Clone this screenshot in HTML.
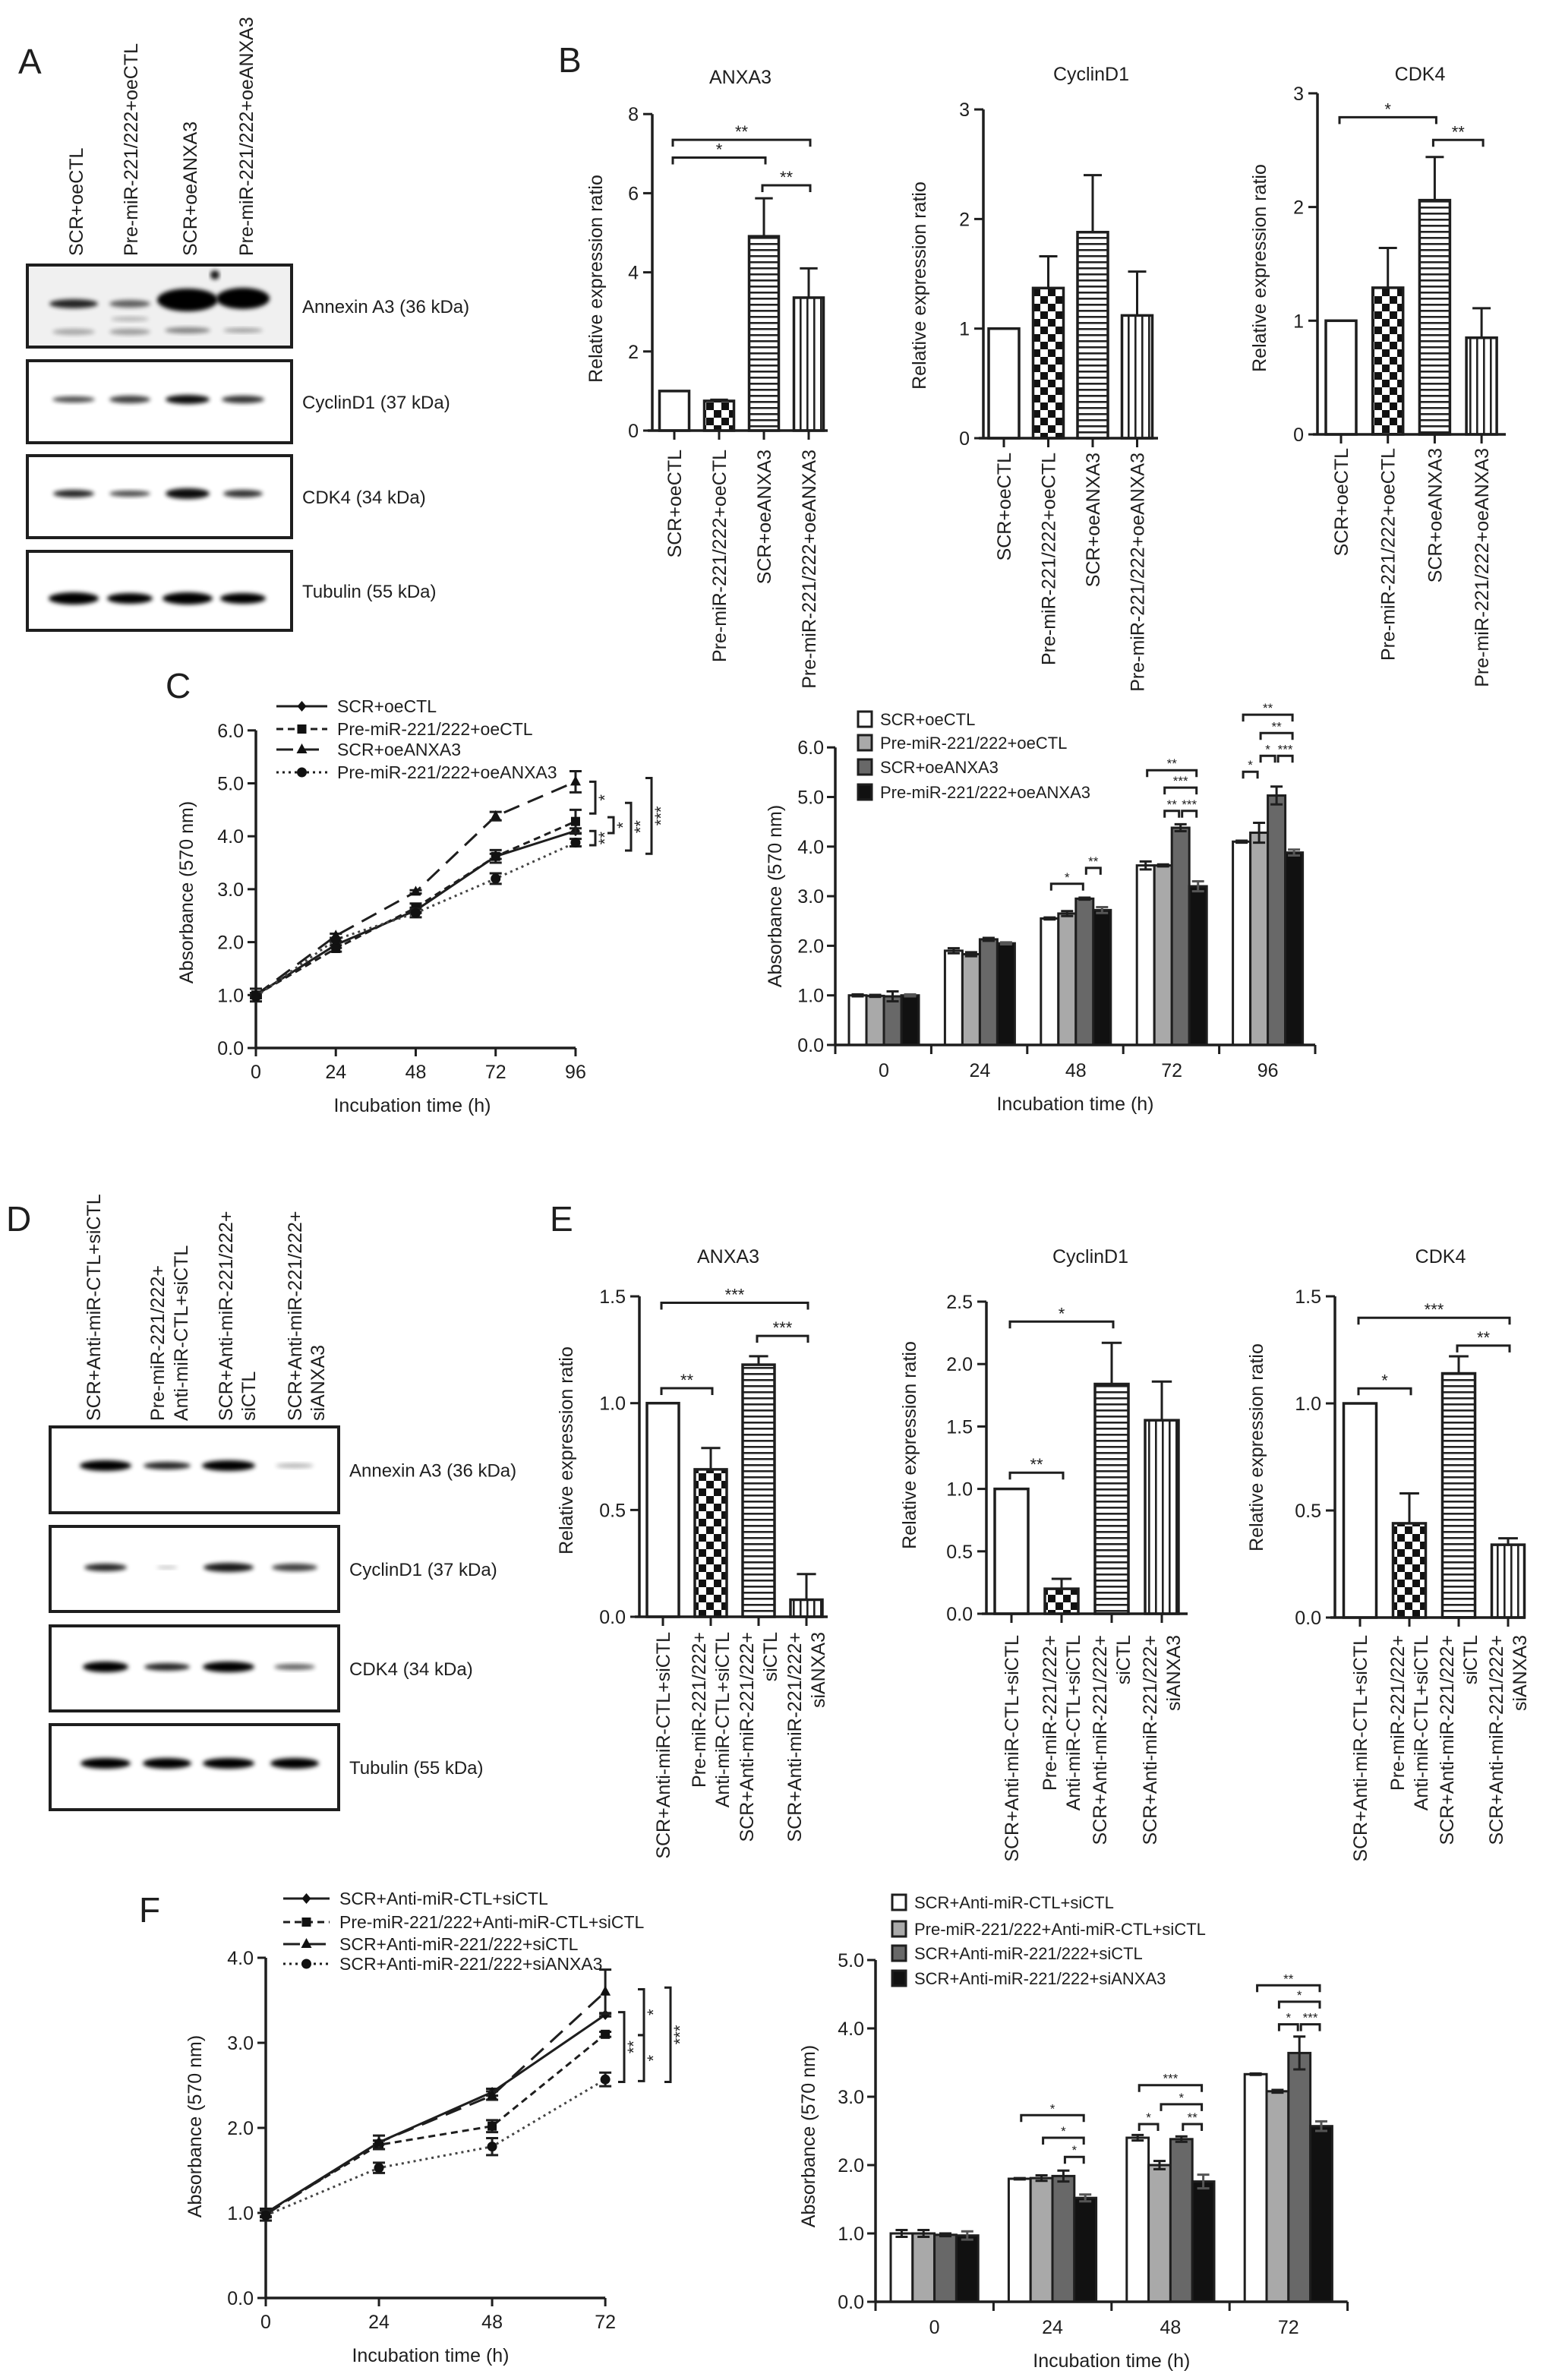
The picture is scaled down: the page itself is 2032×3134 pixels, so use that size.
<!DOCTYPE html>
<html><head><meta charset="utf-8">
<style>
html,body{margin:0;padding:0;background:#fff}
svg{display:block}
text{font-family:"Liberation Sans",Arial,sans-serif;fill:#1e1e1e}
</style></head>
<body>
<svg id="fig" xmlns="http://www.w3.org/2000/svg" width="2032" height="3134" viewBox="0 0 2032 3134">
<defs>
<pattern id="checker" width="20" height="20" patternUnits="userSpaceOnUse"><rect width="20" height="20" fill="#fff"/><rect width="10" height="10" fill="#111"/><rect x="10" y="10" width="10" height="10" fill="#111"/></pattern>
<pattern id="hstripe" width="8" height="8" patternUnits="userSpaceOnUse"><rect width="8" height="8" fill="#fff"/><rect width="8" height="2.6" fill="#222"/></pattern>
<pattern id="vstripe" width="9" height="9" patternUnits="userSpaceOnUse"><rect width="9" height="9" fill="#fff"/><rect width="2.6" height="9" fill="#222"/></pattern>
<filter id="blur" x="-20%" y="-50%" width="140%" height="200%"><feGaussianBlur stdDeviation="3"/></filter>
</defs>
</svg>
<script>
// ---------------- DATA ----------------
const B_categories = ['SCR+oeCTL','Pre-miR-221/222+oeCTL','SCR+oeANXA3','Pre-miR-221/222+oeANXA3'];
const B_anxa3_values = [1.0, 0.75, 4.91, 3.36];
const B_anxa3_errors = [0, 0.03, 0.96, 0.74];
const B_anxa3_ticks = [0, 2, 4, 6, 8];
const B_cyclin_values = [1.0, 1.37, 1.88, 1.12];
const B_cyclin_errors = [0, 0.29, 0.52, 0.40];
const B_cyclin_ticks = [0, 1, 2, 3];
const B_cdk4_values = [1.0, 1.29, 2.06, 0.85];
const B_cdk4_errors = [0, 0.35, 0.38, 0.26];
const B_cdk4_ticks = [0, 1, 2, 3];

const E_categories = [['SCR+Anti-miR-CTL+siCTL'],['Pre-miR-221/222+','Anti-miR-CTL+siCTL'],['SCR+Anti-miR-221/222+','siCTL'],['SCR+Anti-miR-221/222+','siANXA3']];
const E_anxa3_values = [1.0, 0.69, 1.18, 0.08];
const E_anxa3_errors = [0, 0.10, 0.04, 0.12];
const E_cyclin_values = [1.0, 0.2, 1.84, 1.55];
const E_cyclin_errors = [0, 0.08, 0.33, 0.31];
const E_cdk4_values = [1.0, 0.44, 1.14, 0.34];
const E_cdk4_errors = [0, 0.14, 0.08, 0.03];
const E_ticks15 = [0, 0.5, 1.0, 1.5];
const E_ticks25 = [0, 0.5, 1.0, 1.5, 2.0, 2.5];

const C_series_names = ['SCR+oeCTL','Pre-miR-221/222+oeCTL','SCR+oeANXA3','Pre-miR-221/222+oeANXA3'];
const C_times = [0, 24, 48, 72, 96];
const C_scr_oectl = [1.0, 1.95, 2.6, 3.62, 4.1];
const C_pre_oectl = [1.0, 1.88, 2.65, 3.62, 4.28];
const C_scr_oeanxa3 = [1.0, 2.12, 2.95, 4.38, 5.03];
const C_pre_oeanxa3 = [0.97, 2.05, 2.55, 3.2, 3.88];
const C_scr_oectl_err = [0.04, 0.06, 0.05, 0.12, 0.05];
const C_pre_oectl_err = [0.03, 0.06, 0.08, 0.05, 0.22];
const C_scr_oeanxa3_err = [0.12, 0.04, 0.03, 0.08, 0.2];
const C_pre_oeanxa3_err = [0.03, 0.03, 0.08, 0.1, 0.07];
const C_yticks = [0, 1, 2, 3, 4, 5, 6];

const C_bar_scr_oectl = [1.0, 1.9, 2.55, 3.62, 4.1];
const C_bar_pre_oectl = [0.99, 1.83, 2.65, 3.62, 4.28];
const C_bar_scr_oeanxa3 = [0.98, 2.13, 2.95, 4.38, 5.03];
const C_bar_pre_oeanxa3 = [1.0, 2.05, 2.72, 3.2, 3.88];

const F_series_names = ['SCR+Anti-miR-CTL+siCTL','Pre-miR-221/222+Anti-miR-CTL+siCTL','SCR+Anti-miR-221/222+siCTL','SCR+Anti-miR-221/222+siANXA3'];
const F_times = [0, 24, 48, 72];
const F_ctl = [1.0, 1.83, 2.42, 3.33];
const F_pre = [1.0, 1.8, 2.02, 3.1];
const F_anti = [0.98, 1.83, 2.38, 3.6];
const F_si = [0.97, 1.53, 1.78, 2.57];
const F_ctl_err = [0.04, 0.02, 0.04, 0.02];
const F_pre_err = [0.05, 0.05, 0.07, 0.03];
const F_anti_err = [0.02, 0.08, 0.05, 0.26];
const F_si_err = [0.06, 0.06, 0.1, 0.08];
const F_yticks = [0, 1, 2, 3, 4];
const F_bar_ctl = [1.0, 1.8, 2.4, 3.33];
const F_bar_pre = [1.0, 1.81, 2.0, 3.08];
const F_bar_anti = [0.98, 1.84, 2.38, 3.64];
const F_bar_si = [0.97, 1.52, 1.76, 2.57];
const F_bar_yticks = [0, 1, 2, 3, 4, 5];

const NS = 'http://www.w3.org/2000/svg';
const svg = document.getElementById('fig');
function mk(tag, name, parent) {
  const e = document.createElementNS(NS, tag);
  
  
  (parent || svg).appendChild(e);
  return e;
}
function at(e, o) { for (const k in o) e.setAttribute(k, o[k]); return e; }
function line(name, x1, y1, x2, y2, w, extra, p) { return at(mk('line', name, p), Object.assign({x1, y1, x2, y2, stroke: '#1e1e1e', 'stroke-width': w || 3}, extra || {})); }
function txt(name, s, x, y, fs, anchor, extra, p) {
  const t = at(mk('text', name, p), Object.assign({x, y, 'font-size': fs, 'text-anchor': anchor || 'start'}, extra || {}));
  t.textContent = s; return t;
}
function vtxt(name, s, x, y, fs, anchor, p) {
  return txt(name, s, 0, 0, fs, anchor, {transform: 'translate(' + x + ',' + y + ') rotate(-90)'}, p);
}
function fmt1(v) { return v.toFixed(1); }

[['A',24,97],['B',735,95],['C',218,919],['D',8,1621],['E',724,1621],['F',183,2531]].forEach(function (d) {
  txt('panel-label-' + d[0].toLowerCase(), d[0], d[1], d[2], 46, 'start');
});

function blot(prefix, cfg) {
  const g = mk('g', prefix + '-blot');
  cfg.lanes.forEach(function (lane, i) {
    const lg = mk('g', prefix + '-lane-label-' + (i + 1), g);
    lane.forEach(function (ln, j) {
      vtxt(prefix + '-lane-text', ln, cfg.laneX[i][j] + 9, cfg.laneBottom, 25, 'start', lg);
    });
  });
  cfg.boxes.forEach(function (b) {
    const bg = mk('g', prefix + '-membrane-' + b.name, g);
    at(mk('rect', prefix + '-membrane-box', bg), {x: cfg.x0, y: b.y, width: cfg.x1 - cfg.x0, height: b.h, fill: b.bg || '#fff', stroke: '#1e1e1e', 'stroke-width': 4});
    b.bands.forEach(function (band, i) {
      if (band[1] <= 0) return;
      at(mk('ellipse', prefix + '-band', bg), {cx: cfg.bandX[i], cy: b.by + (band[2] || 0), rx: band[0], ry: band[1], fill: '#000', opacity: band[3], filter: 'url(#blur)'});
    });
    (b.extra || []).forEach(function (e) {
      at(mk('ellipse', prefix + '-band-faint', bg), {cx: e[0], cy: e[1], rx: e[2], ry: e[3], fill: '#000', opacity: e[4], filter: 'url(#blur)'});
    });
    txt(prefix + '-protein-label', b.label, cfg.x1 + 14, b.y + b.h / 2 + 9, 24, 'start', null, bg);
  });
}
blot('a', {
  lanes: [['SCR+oeCTL'], ['Pre-miR-221/222+oeCTL'], ['SCR+oeANXA3'], ['Pre-miR-221/222+oeANXA3']],
  laneX: [[100], [172], [250], [324]], laneBottom: 337,
  x0: 36, x1: 384, bandX: [97, 171, 247, 320],
  boxes: [
    {name: 'annexin', label: 'Annexin A3 (36 kDa)', y: 349, h: 108, by: 400, bg: '#f0f0f0',
      bands: [[32, 6, 0, 0.85], [27, 5, 0, 0.6], [40, 15, -5, 1], [35, 14, -7, 1]],
      extra: [[97, 437, 28, 4, 0.3], [171, 437, 27, 4, 0.35], [171, 420, 25, 3, 0.25], [247, 435, 30, 4, 0.45], [320, 435, 26, 3, 0.35], [283, 362, 6, 6, 0.9]]},
    {name: 'cyclind1', label: 'CyclinD1 (37 kDa)', y: 475, h: 108, by: 526, bands: [[28, 4, 0, 0.7], [27, 5, 0, 0.75], [29, 6, 0, 0.95], [28, 5, 0, 0.8]]},
    {name: 'cdk4', label: 'CDK4 (34 kDa)', y: 600, h: 108, by: 650, bands: [[27, 5, 0, 0.85], [27, 4, 0, 0.7], [29, 7, 0, 0.95], [26, 5, 0, 0.8]]},
    {name: 'tubulin', label: 'Tubulin (55 kDa)', y: 726, h: 104, by: 788, bands: [[33, 8, 0, 1], [30, 7, 0, 1], [33, 8, 0, 1], [30, 7, 0, 1]]}
  ]
});
blot('d', {
  lanes: [['SCR+Anti-miR-CTL+siCTL'], ['Pre-miR-221/222+', 'Anti-miR-CTL+siCTL'], ['SCR+Anti-miR-221/222+', 'siCTL'], ['SCR+Anti-miR-221/222+', 'siANXA3']],
  laneX: [[123], [207, 238], [297, 327], [388, 418]], laneBottom: 1871,
  x0: 66, x1: 446, bandX: [139, 220, 301, 388],
  boxes: [
    {name: 'annexin', label: 'Annexin A3 (36 kDa)', y: 1879, h: 113, by: 1930, bands: [[34, 7, 0, 1], [31, 5, 0, 0.85], [35, 7, 0, 1], [25, 3, 0, 0.3]]},
    {name: 'cyclind1', label: 'CyclinD1 (37 kDa)', y: 2010, h: 112, by: 2064, bands: [[28, 5, 0, 0.85], [14, 2, 0, 0.25], [33, 6, 0, 0.9], [30, 5, 0, 0.75]]},
    {name: 'cdk4', label: 'CDK4 (34 kDa)', y: 2141, h: 112, by: 2195, bands: [[30, 7, 0, 1], [30, 5, 0, 0.85], [34, 7, 0, 1], [27, 4, 0, 0.6]]},
    {name: 'tubulin', label: 'Tubulin (55 kDa)', y: 2271, h: 112, by: 2322, bands: [[33, 7, 0, 1], [32, 7, 0, 1], [34, 7, 0, 1], [32, 7, 0, 1]]}
  ]
});

const FILLS = ['#fff', 'url(#checker)', 'url(#hstripe)', 'url(#vstripe)'];
function bracket(name, x1, x2, y, label, fs, p) {
  const g = mk('g', name, p);
  at(mk('path', name + '-line', g), {d: 'M' + x1 + ',' + (y + 9) + 'V' + y + 'H' + x2 + 'V' + (y + 9), fill: 'none', stroke: '#1e1e1e', 'stroke-width': 3});
  txt(name + '-stars', label, (x1 + x2) / 2, y - 3, fs, 'middle', null, g);
}
function exprChart(name, c, vals, errs, ticks, cats, brackets) {
  const g = mk('g', name);
  const yv = function (v) { return c.y0 - v * c.ppu; };
  const xc = function (i) { return c.cx0 + i * c.step; };
  txt(name + '-title', c.title, c.titleX, c.titleY, 25, 'middle', null, g);
  if (c.ytitleX) vtxt(name + '-y-axis-title', 'Relative expression ratio', c.ytitleX + 9, c.ytitleY, 25, 'middle', g);
  line(name + '-y-axis', c.ax, yv(ticks[ticks.length - 1]), c.ax, c.y0, 3.5, null, g);
  ticks.forEach(function (t) {
    line(name + '-y-tick', c.ax - 12, yv(t), c.ax, yv(t), 3, null, g);
    txt(name + '-y-tick-label', c.fmt ? fmt1(t) : String(t), c.ax - 18, yv(t) + 9, 25, 'end', null, g);
  });
  vals.forEach(function (v, i) {
    const bx = xc(i) - c.bw / 2;
    at(mk('rect', name + '-bar-' + (i + 1), g), {x: bx, y: yv(v), width: c.bw, height: v * c.ppu, fill: FILLS[i], stroke: '#1e1e1e', 'stroke-width': 3.5});
    if (errs[i] > 0) {
      line(name + '-error-bar', xc(i), yv(v), xc(i), yv(v + errs[i]), 3, null, g);
      line(name + '-error-cap', xc(i) - c.bw * 0.3, yv(v + errs[i]), xc(i) + c.bw * 0.3, yv(v + errs[i]), 3, null, g);
    }
  });
  line(name + '-x-axis', c.ax - 6, c.y0, c.xEnd, c.y0, 3.5, null, g);
  cats.forEach(function (lines, i) {
    line(name + '-x-tick', xc(i), c.y0, xc(i), c.y0 + 12, 3, null, g);
    const n = lines.length;
    lines.forEach(function (ln, j) {
      const off = n === 1 ? 0 : (j === 0 ? -16 : 15);
      vtxt(name + '-x-tick-label', ln, xc(i) + off + 9, c.labelTop, 25, 'end', g);
    });
  });
  brackets.forEach(function (b, k) {
    bracket(name + '-significance-' + (k + 1), xc(b[0]) - 2, xc(b[1]) + 2, yv(b[2]), b[3], 22, g);
  });
}
const Bcats = B_categories.map(function (s) { return [s]; });
exprChart('b-anxa3-chart', {ax: 859, y0: 567, ppu: 52.1, cx0: 888, step: 59, bw: 39, xEnd: 1090, title: 'ANXA3', titleX: 975, titleY: 110, ytitleX: 784, ytitleY: 367, labelTop: 592},
  B_anxa3_values, B_anxa3_errors, B_anxa3_ticks, Bcats, [[0, 3, 7.35, '**'], [0, 2, 6.9, '*'], [2, 3, 6.2, '**']]);
exprChart('b-cyclind1-chart', {ax: 1295, y0: 577, ppu: 144.3, cx0: 1322, step: 58.5, bw: 40, xEnd: 1525, title: 'CyclinD1', titleX: 1437, titleY: 106, ytitleX: 1210, ytitleY: 376, labelTop: 596},
  B_cyclin_values, B_cyclin_errors, B_cyclin_ticks, Bcats, []);
exprChart('b-cdk4-chart', {ax: 1735, y0: 572, ppu: 149.7, cx0: 1766, step: 61.7, bw: 40, xEnd: 1983, title: 'CDK4', titleX: 1870, titleY: 106, ytitleX: 1658, ytitleY: 353, labelTop: 590},
  B_cdk4_values, B_cdk4_errors, B_cdk4_ticks, Bcats, [[0, 2, 2.79, '*'], [2, 3, 2.59, '**']]);

exprChart('e-anxa3-chart', {ax: 842, y0: 2129, ppu: 281.3, cx0: 873, step: 63, bw: 42, xEnd: 1090, fmt: true, title: 'ANXA3', titleX: 959, titleY: 1663, ytitleX: 745, ytitleY: 1910, labelTop: 2149},
  E_anxa3_values, E_anxa3_errors, E_ticks15, E_categories, [[0, 3, 1.47, '***'], [2, 3, 1.315, '***'], [0, 1, 1.07, '**']]);
exprChart('e-cyclind1-chart', {ax: 1299, y0: 2125, ppu: 164.4, cx0: 1332, step: 66, bw: 44, xEnd: 1564, fmt: true, title: 'CyclinD1', titleX: 1436, titleY: 1663, ytitleX: 1197, ytitleY: 1903, labelTop: 2153},
  E_cyclin_values, E_cyclin_errors, E_ticks25, E_categories, [[0, 2, 2.34, '*'], [0, 1, 1.13, '**']]);
exprChart('e-cdk4-chart', {ax: 1758, y0: 2130, ppu: 282, cx0: 1791, step: 65, bw: 43, xEnd: 2008, fmt: true, title: 'CDK4', titleX: 1897, titleY: 1663, ytitleX: 1654, ytitleY: 1906, labelTop: 2153},
  E_cdk4_values, E_cdk4_errors, E_ticks15, E_categories, [[0, 3, 1.40, '***'], [2, 3, 1.27, '**'], [0, 1, 1.07, '*']]);

const DASHES = ['', '9,6', '22,12', '3,5'];
function marker(name, k, x, y, p) {
  if (k === 0) return at(mk('path', name, p), {d: 'M' + x + ',' + (y - 7) + 'L' + (x + 6) + ',' + y + 'L' + x + ',' + (y + 7) + 'L' + (x - 6) + ',' + y + 'Z', fill: '#111'});
  if (k === 1) return at(mk('rect', name, p), {x: x - 6, y: y - 6, width: 12, height: 12, fill: '#111'});
  if (k === 2) return at(mk('path', name, p), {d: 'M' + x + ',' + (y - 8) + 'L' + (x + 7) + ',' + (y + 5) + 'L' + (x - 7) + ',' + (y + 5) + 'Z', fill: '#111'});
  return at(mk('circle', name, p), {cx: x, cy: y, r: 6.5, fill: '#111'});
}
function lineChart(name, c, times, series, errs, names, yticks, brackets) {
  const g = mk('g', name);
  const xv = function (t) { return c.ax + t * c.ppx; };
  const yv = function (v) { return c.y0 - v * c.ppu; };
  line(name + '-y-axis', c.ax, yv(yticks[yticks.length - 1]), c.ax, c.y0, 3.5, null, g);
  yticks.forEach(function (t) {
    line(name + '-y-tick', c.ax - 11, yv(t), c.ax, yv(t), 3, null, g);
    txt(name + '-y-tick-label', fmt1(t), c.ax - 16, yv(t) + 9, 25, 'end', null, g);
  });
  line(name + '-x-axis', c.ax, c.y0, xv(times[times.length - 1]), c.y0, 3.5, null, g);
  times.forEach(function (t) {
    line(name + '-x-tick', xv(t), c.y0, xv(t), c.y0 + 11, 3, null, g);
    txt(name + '-x-tick-label', String(t), xv(t), c.y0 + 40, 25, 'middle', null, g);
  });
  txt(name + '-x-axis-title', 'Incubation time (h)', c.xtX, c.y0 + 84, 25, 'middle', null, g);
  vtxt(name + '-y-axis-title', 'Absorbance (570 nm)', c.ytX + 9, c.ytY, 25, 'middle', g);
  series.forEach(function (s, k) {
    const sg = mk('g', name + '-series-' + (k + 1), g);
    const d = s.map(function (v, i) { return (i ? 'L' : 'M') + xv(times[i]) + ',' + yv(v); }).join('');
    const pa = at(mk('path', name + '-line', sg), {d: d, fill: 'none', stroke: k === 3 ? '#444' : '#1e1e1e', 'stroke-width': 3});
    if (DASHES[k]) pa.setAttribute('stroke-dasharray', DASHES[k]);
    s.forEach(function (v, i) {
      const e = errs[k][i];
      line(name + '-error-bar', xv(times[i]), yv(v - e), xv(times[i]), yv(v + e), 3, null, sg);
      line(name + '-error-cap', xv(times[i]) - 8, yv(v + e), xv(times[i]) + 8, yv(v + e), 3, null, sg);
      line(name + '-error-cap', xv(times[i]) - 8, yv(v - e), xv(times[i]) + 8, yv(v - e), 3, null, sg);
      marker(name + '-marker', k, xv(times[i]), yv(v), sg);
    });
    const lg = mk('g', name + '-legend-entry-' + (k + 1), g);
    const ly = c.legY[k];
    const ll = line(name + '-legend-line', c.legX0, ly, c.legX1, ly, 3, null, lg);
    if (DASHES[k]) ll.setAttribute('stroke-dasharray', DASHES[k]);
    marker(name + '-legend-marker', k, (c.legX0 + c.legX1) / 2, ly, lg);
    txt(name + '-legend-label', names[k], c.legX1 + 13, ly + 8, 23, 'start', null, lg);
  });
  brackets.forEach(function (b, i) {
    const bg = mk('g', name + '-significance-' + (i + 1), g);
    at(mk('path', name + '-bracket', bg), {d: 'M' + (b[0] - 8) + ',' + yv(b[1]) + 'H' + b[0] + 'V' + yv(b[2]) + 'H' + (b[0] - 8), fill: 'none', stroke: '#1e1e1e', 'stroke-width': 3});
    vtxt(name + '-stars', b[3], b[0] + 20, (yv(b[1]) + yv(b[2])) / 2, 22, 'middle', bg);
  });
}
lineChart('c-line-chart', {ax: 337, y0: 1380, ppx: 4.385, ppu: 69.7, xtX: 543, ytX: 245, ytY: 1175, legX0: 364, legX1: 431, legY: [930, 960, 987, 1017]},
  C_times, [C_scr_oectl, C_pre_oectl, C_scr_oeanxa3, C_pre_oeanxa3], [C_scr_oectl_err, C_pre_oectl_err, C_scr_oeanxa3_err, C_pre_oeanxa3_err], C_series_names, C_yticks,
  [[784, 5.03, 4.43, '*'], [784, 4.1, 3.83, '**'], [808, 4.36, 4.06, '*'], [831, 4.63, 3.73, '**'], [858, 5.1, 3.67, '***']]);
lineChart('f-line-chart', {ax: 350, y0: 3026, ppx: 6.21, ppu: 112, xtX: 567, ytX: 256, ytY: 2800, legX0: 373, legX1: 434, legY: [2500, 2531, 2560, 2586]},
  F_times, [F_ctl, F_pre, F_anti, F_si], [F_ctl_err, F_pre_err, F_anti_err, F_si_err], F_series_names, F_yticks,
  [[822, 3.36, 2.54, '**'], [848, 3.63, 3.09, '*'], [848, 3.09, 2.55, '*'], [883, 3.65, 2.54, '***']]);

const GCOL = ['#ffffff', '#a9a9a9', '#686868', '#111111'];
function groupChart(name, c, times, series, errs, names, yticks, brackets) {
  const g = mk('g', name);
  const yv = function (v) { return c.y0 - v * c.ppu; };
  const bx = function (gi, si) { return c.ax + c.gOff + gi * c.gStep + si * c.bw; };
  line(name + '-y-axis', c.ax, yv(yticks[yticks.length - 1]), c.ax, c.y0, 3.5, null, g);
  yticks.forEach(function (t) {
    line(name + '-y-tick', c.ax - 11, yv(t), c.ax, yv(t), 3, null, g);
    txt(name + '-y-tick-label', fmt1(t), c.ax - 15, yv(t) + 9, 25, 'end', null, g);
  });
  series.forEach(function (s, si) {
    const sg = mk('g', name + '-series-' + (si + 1), g);
    s.forEach(function (v, gi) {
      at(mk('rect', name + '-bar', sg), {x: bx(gi, si), y: yv(v), width: c.bw, height: v * c.ppu, fill: GCOL[si], stroke: '#1e1e1e', 'stroke-width': 3});
      const cx = bx(gi, si) + c.bw / 2, e = errs[si][gi];
      const ec = si === 3 ? '#555' : '#1e1e1e';
      line(name + '-error-bar', cx, yv(v - e), cx, yv(v + e), 3, {stroke: ec}, sg);
      line(name + '-error-cap', cx - 8, yv(v + e), cx + 8, yv(v + e), 3, {stroke: ec}, sg);
      line(name + '-error-cap', cx - 8, yv(v - e), cx + 8, yv(v - e), 3, {stroke: ec}, sg);
    });
  });
  line(name + '-x-axis', c.ax, c.y0, c.ax + times.length * c.gStep, c.y0, 3.5, null, g);
  for (let k = 0; k <= times.length; k++) line(name + '-x-tick', c.ax + k * c.gStep, c.y0, c.ax + k * c.gStep, c.y0 + 12, 3, null, g);
  times.forEach(function (t, gi) {
    txt(name + '-x-tick-label', String(t), bx(gi, 0) + c.bw * 2, c.y0 + 42, 25, 'middle', null, g);
  });
  txt(name + '-x-axis-title', 'Incubation time (h)', c.ax + times.length * c.gStep / 2, c.y0 + 86, 25, 'middle', null, g);
  vtxt(name + '-y-axis-title', 'Absorbance (570 nm)', c.ytX + 9, c.ytY, 25, 'middle', g);
  names.forEach(function (n, si) {
    const lg = mk('g', name + '-legend-entry-' + (si + 1), g);
    at(mk('rect', name + '-legend-swatch', lg), {x: c.legX, y: c.legY[si] - 10, width: 18, height: 20, fill: GCOL[si], stroke: '#1e1e1e', 'stroke-width': 3});
    txt(name + '-legend-label', n, c.legX + 29, c.legY[si] + 8, 22, 'start', null, lg);
  });
  brackets.forEach(function (b, k) {
    const x1 = bx(b[0], b[1]) + c.bw / 2 + 2, x2 = bx(b[0], b[2]) + c.bw / 2 - 2;
    bracket(name + '-significance-' + (k + 1), x1, x2, yv(b[3]), b[4], 17, g);
  });
}
groupChart('c-bar-chart', {ax: 1100, y0: 1376, ppu: 65.3, gStep: 126.4, gOff: 18, bw: 23, ytX: 1020, ytY: 1180, legX: 1130, legY: [947, 978, 1010, 1043]},
  C_times, [C_bar_scr_oectl, C_bar_pre_oectl, C_bar_scr_oeanxa3, C_bar_pre_oeanxa3],
  [[0.02, 0.05, 0.02, 0.08, 0.02], [0.02, 0.04, 0.05, 0.02, 0.2], [0.1, 0.03, 0.02, 0.07, 0.18], [0.02, 0.02, 0.06, 0.1, 0.06]],
  C_series_names, C_yticks,
  [[2, 0, 2, 3.25, '*'], [2, 2, 3, 3.57, '**'], [3, 0, 3, 5.54, '**'], [3, 1, 3, 5.19, '***'], [3, 1, 2, 4.72, '**'], [3, 2, 3, 4.72, '***'],
   [4, 0, 3, 6.66, '**'], [4, 1, 3, 6.29, '**'], [4, 1, 2, 5.83, '*'], [4, 2, 3, 5.83, '***'], [4, 0, 1, 5.51, '*']]);
groupChart('f-bar-chart', {ax: 1153, y0: 3031, ppu: 90, gStep: 155.4, gOff: 20, bw: 28.8, ytX: 1064, ytY: 2813, legX: 1175, legY: [2505, 2540, 2572, 2605]},
  F_times, [F_bar_ctl, F_bar_pre, F_bar_anti, F_bar_si],
  [[0.05, 0.01, 0.04, 0.01], [0.05, 0.04, 0.06, 0.02], [0.02, 0.08, 0.04, 0.24], [0.06, 0.05, 0.1, 0.07]],
  F_series_names, F_bar_yticks,
  [[1, 0, 3, 2.73, '*'], [1, 1, 3, 2.40, '*'], [1, 2, 3, 2.12, '*'], [2, 0, 3, 3.17, '***'], [2, 1, 3, 2.89, '*'], [2, 0, 1, 2.6, '*'], [2, 2, 3, 2.6, '**'],
   [3, 0, 3, 4.63, '**'], [3, 1, 3, 4.39, '*'], [3, 1, 2, 4.06, '*'], [3, 2, 3, 4.06, '***']]);
</script>
</body></html>
